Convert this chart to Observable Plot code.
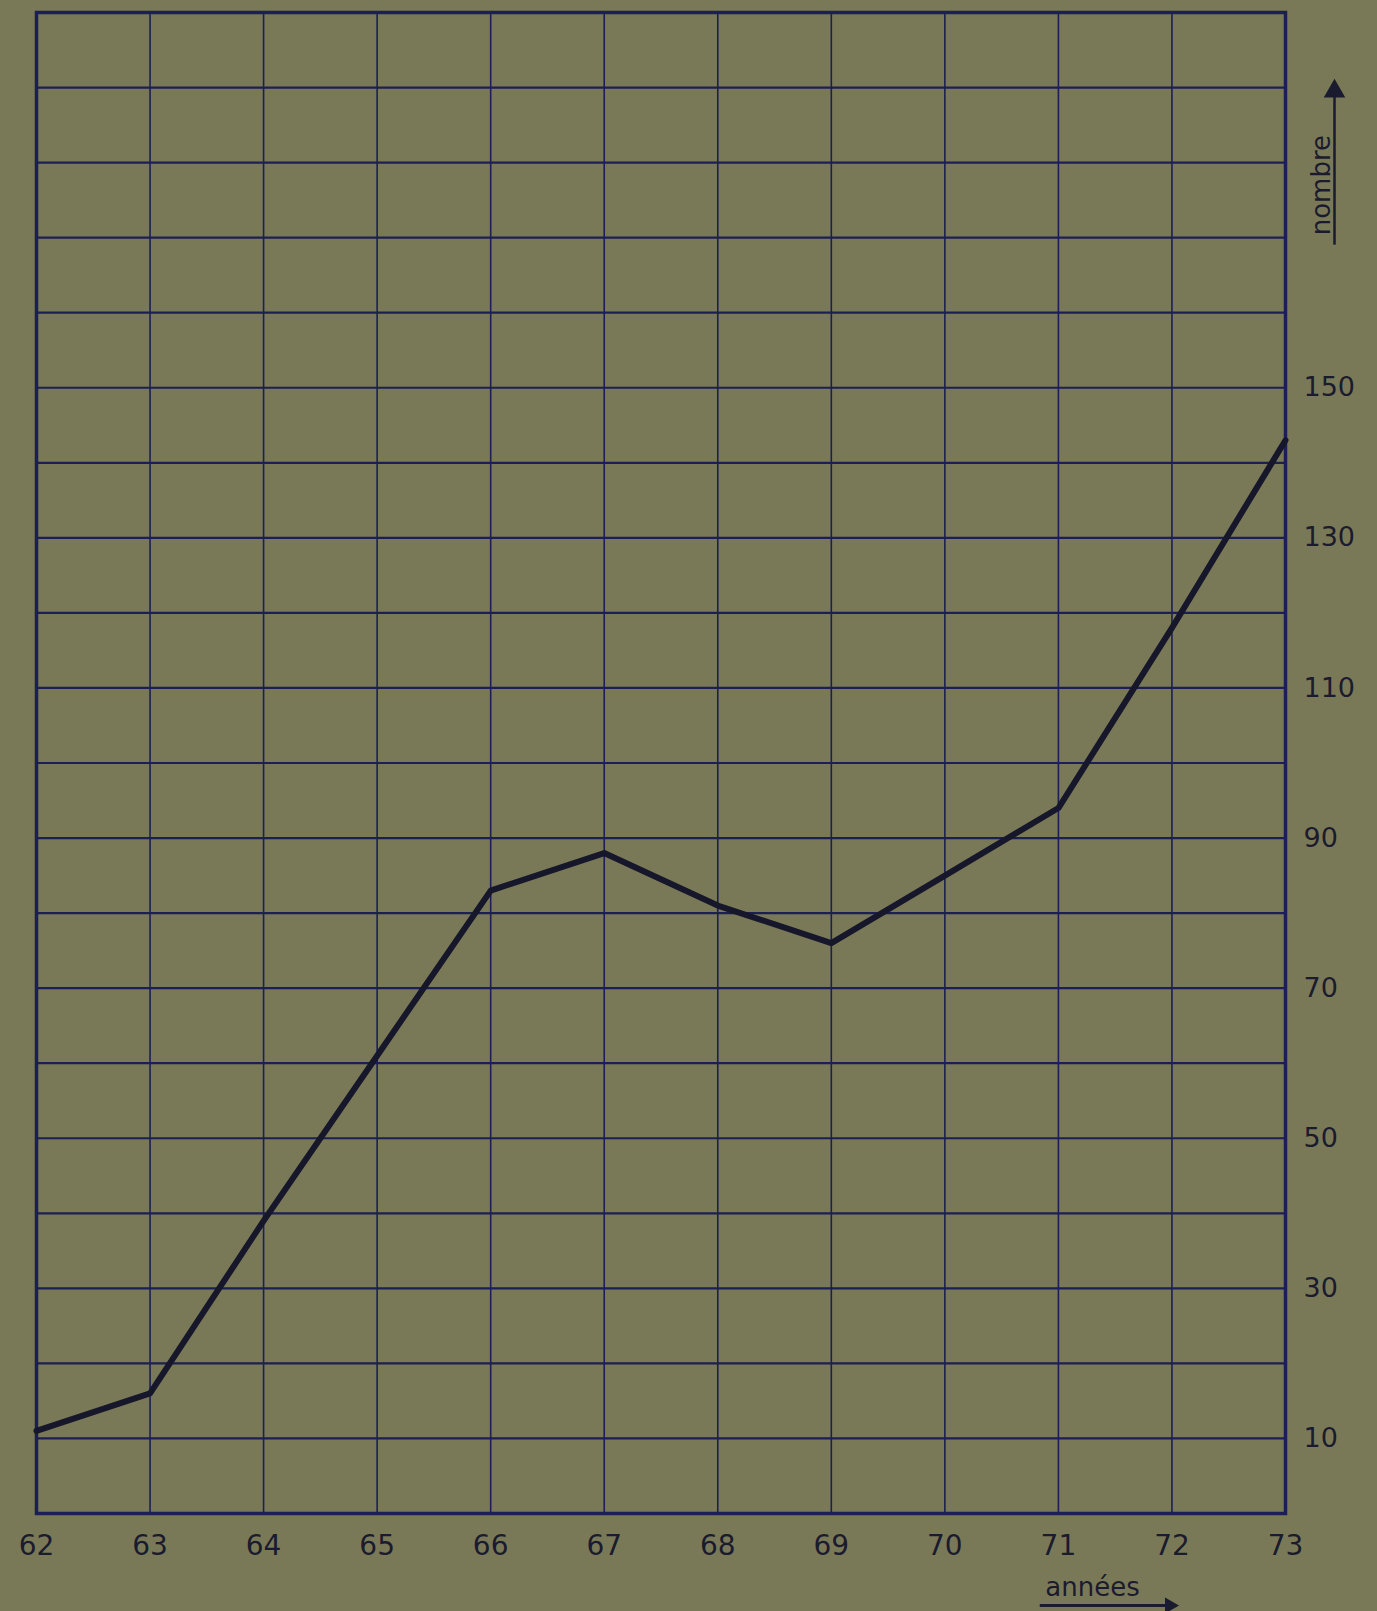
<!DOCTYPE html>
<html>
<head>
<meta charset="utf-8">
<script src="https://cdn.jsdelivr.net/npm/d3@7"></script>
<script src="https://cdn.jsdelivr.net/npm/@observablehq/plot@0.6"></script>
<style>
  html, body { margin: 0; padding: 0; background: #7a7957; }
  #chart svg { display: block; }
</style>
</head>
<body>
<div id="chart"></div>
<script>
// Data
const years = [62, 63, 64, 65, 66, 67, 68, 69, 70, 71, 72, 73];
const values = [11, 16, 39, 61, 83, 88, 81, 76, 85, 94, 118, 143];
const yGrid = [10, 20, 30, 40, 50, 60, 70, 80, 90, 100, 110, 120, 130, 140, 150, 160, 170, 180, 190];
const yTickLabels = [10, 30, 50, 70, 90, 110, 130, 150];
const xLabel = "années";
const yLabel = "nombre";

const data = years.map((y, i) => ({year: y, value: values[i]}));

const ink = "#1b1f55";
const dark = "#1a1b2e";

const chart = Plot.plot({
  width: 1377,
  height: 1611,
  marginLeft: 36,
  marginRight: 92,
  marginTop: 12,
  marginBottom: 98,
  style: {background: "#7a7957", fontFamily: "'DejaVu Sans', sans-serif", color: dark, overflow: "visible"},
  x: {domain: [62, 73]},
  y: {domain: [0, 200]},
  marks: [
    Plot.ruleX(years, {x: d => d, stroke: ink, strokeWidth: 1.6}),
    Plot.ruleY(yGrid, {y: d => d, stroke: ink, strokeWidth: 2.2}),
    Plot.frame({stroke: ink, strokeWidth: 3.5}),
    Plot.axisX(years, {anchor: "bottom", tickSize: 0, tickPadding: 22, fontSize: 28, fill: dark, tickFormat: d => String(d), label: null}),
    Plot.axisY(yTickLabels, {anchor: "right", tickSize: 0, tickPadding: 18, fontSize: 27, fill: dark, textAnchor: "start", label: null}),
    Plot.line(data, {x: "year", y: "value", stroke: "#16172a", strokeWidth: 6, strokeLinejoin: "round", strokeLinecap: "round"}),
    // x-axis caption with underline arrow
    Plot.text([xLabel], {x: () => 71.3, y: () => 0, text: d => d, dy: 74, fontSize: 26, fill: dark}),
    Plot.ruleY([0], {x1: () => 70.84, x2: () => 71.95, y: () => 0, dy: 92, stroke: dark, strokeWidth: 3}),
    Plot.dot([0], {x: () => 71.98, y: () => 0, dy: 92, symbol: "triangle", rotate: 90, r: 6, fill: dark, stroke: "none"}),
    // y-axis caption with vertical arrow
    Plot.text([yLabel], {x: () => 73, y: () => 177, text: d => d, rotate: -90, dx: 36, fontSize: 26, fill: dark}),
    Plot.ruleX([0], {x: () => 73, y1: () => 169, y2: () => 189.5, dx: 49, stroke: dark, strokeWidth: 2.5}),
    Plot.dot([0], {x: () => 73, y: () => 189.5, dx: 49, symbol: "triangle", r: 8, fill: dark, stroke: "none"})
  ]
});

document.getElementById("chart").appendChild(chart);
</script>
</body>
</html>
